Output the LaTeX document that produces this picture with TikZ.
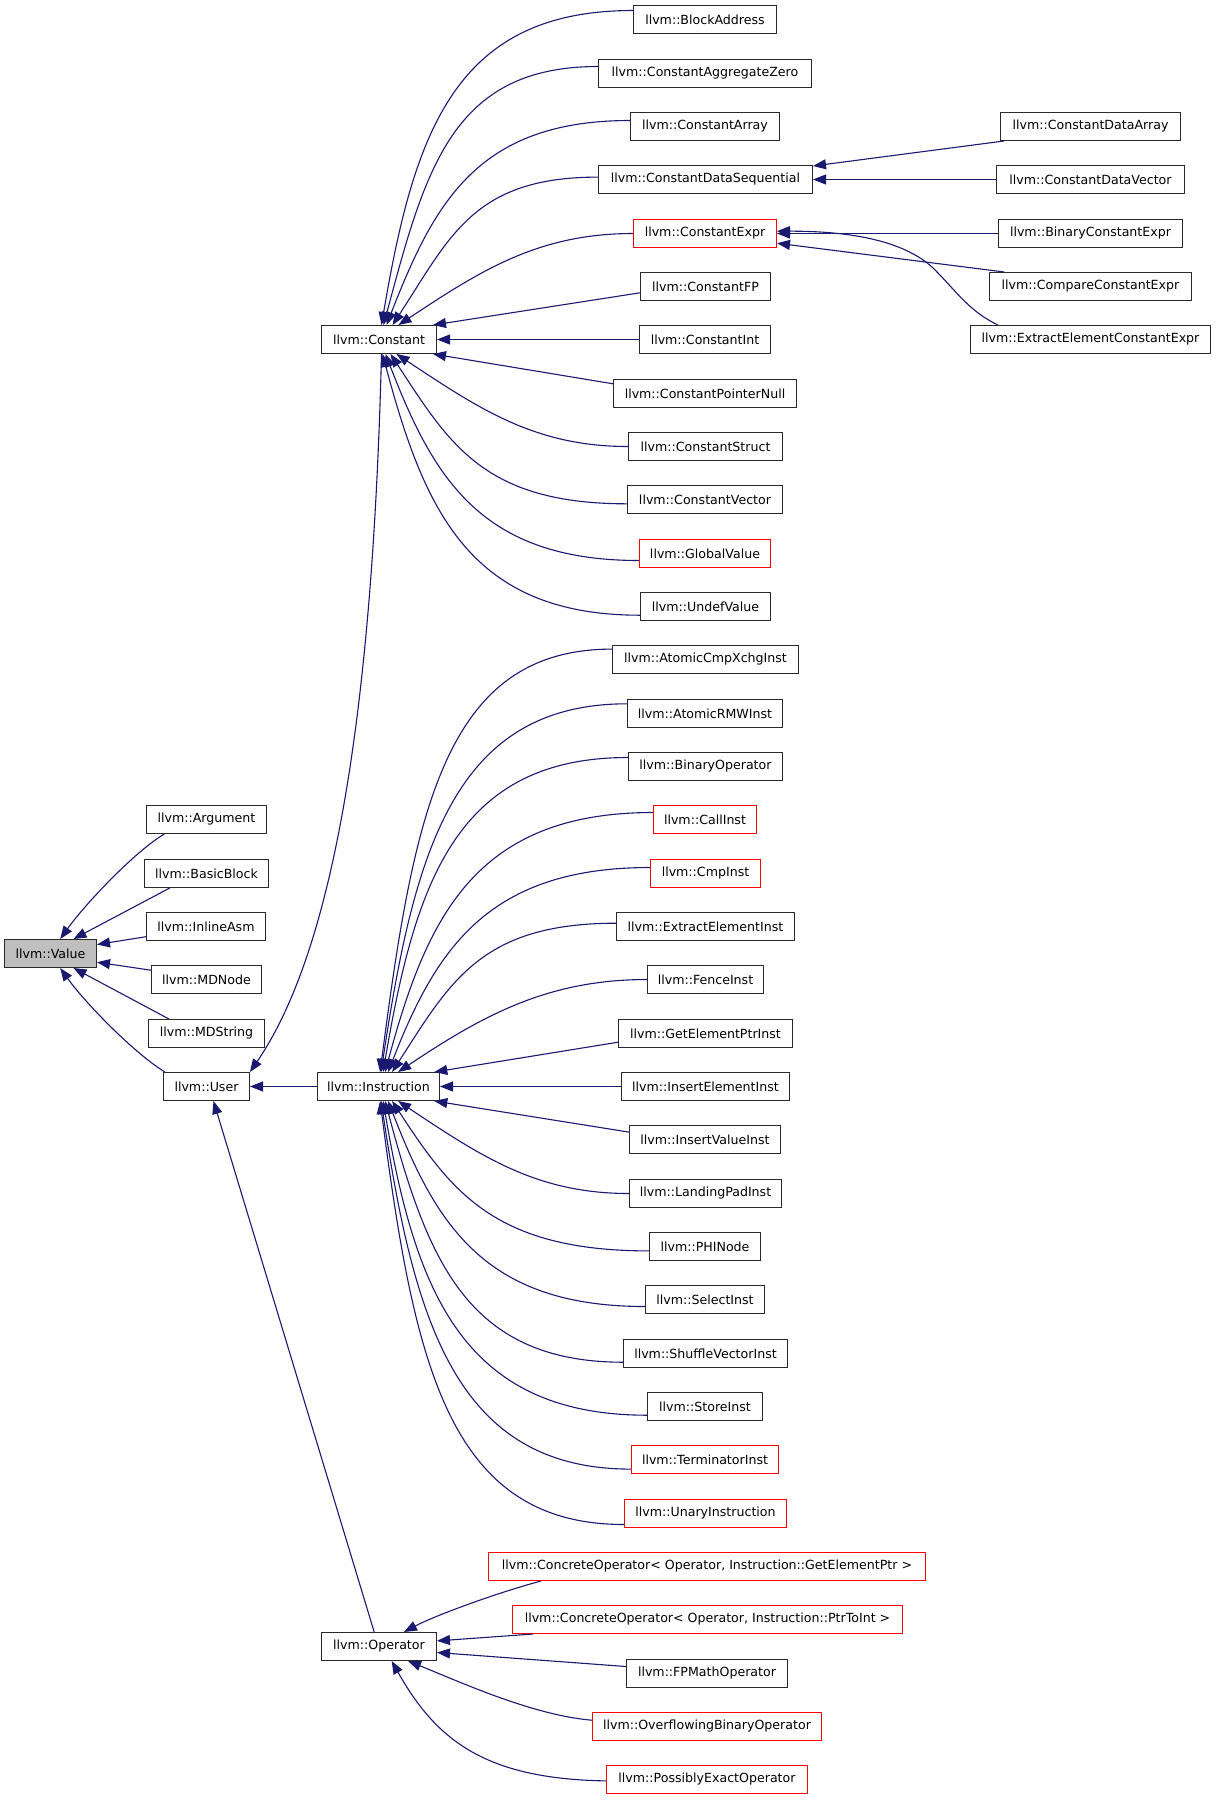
\documentclass[tikz,border=0pt]{standalone}
\usepackage{fontspec}
\setmainfont{DejaVu Sans}
\usetikzlibrary{arrows.meta,calc}
\definecolor{edgecol}{HTML}{191970}
\definecolor{boxgray}{HTML}{BFBFBF}
\definecolor{boxline}{HTML}{2A2A2A}
\definecolor{boxred}{HTML}{FF0000}
\begin{document}
\begin{tikzpicture}[x=1pt,y=-1pt,
  box/.style={draw=boxline, line width=1pt, minimum height=28pt, inner sep=0pt, fill=white, font=\fontsize{12.6pt}{15pt}\selectfont},
  redbox/.style={box, draw=boxred},
  edge/.style={draw=edgecol, line width=1.1pt, -{Triangle[length=13pt,width=10pt]}},
]
\useasboundingbox[fill=white] (0,0) rectangle (1216,1800);

% left column
\node[box, fill=boxgray, minimum width=92pt] (value) at (50.5,953.5) {llvm::Value};
\node[box, minimum width=120pt] (arg) at (206.5,819.5) {llvm::Argument};
\node[box, minimum width=124pt] (bb) at (206.5,873.5) {llvm::BasicBlock};
\node[box, minimum width=119pt] (ia) at (206,926.5) {llvm::InlineAsm};
\node[box, minimum width=110pt] (mdn) at (206.5,979.5) {llvm::MDNode};
\node[box, minimum width=116pt] (mds) at (206.5,1033.5) {llvm::MDString};
\node[box, minimum width=86pt] (user) at (206.5,1086.5) {llvm::User};
\node[box, minimum width=115pt] (const) at (379,339.5) {llvm::Constant};
\node[box, minimum width=122pt] (instr) at (378.5,1086.5) {llvm::Instruction};
\node[box, minimum width=115pt] (oper) at (379,1646.5) {llvm::Operator};

% middle column
\node[box, minimum width=143pt] (ba) at (705,19.5) {llvm::BlockAddress};
\node[box, minimum width=213pt] (caz) at (705,73.5) {llvm::ConstantAggregateZero};
\node[box, minimum width=149pt] (carr) at (705,126.5) {llvm::ConstantArray};
\node[box, minimum width=214pt] (cds) at (705.5,179.5) {llvm::ConstantDataSequential};
\node[redbox, minimum width=143pt] (cexpr) at (705,233.5) {llvm::ConstantExpr};
\node[box, minimum width=130pt] (cfp) at (705.5,286.5) {llvm::ConstantFP};
\node[box, minimum width=131pt] (cint) at (705,339.5) {llvm::ConstantInt};
\node[box, minimum width=183pt] (cpn) at (705,393.5) {llvm::ConstantPointerNull};
\node[box, minimum width=154pt] (cstruct) at (705.5,446.5) {llvm::ConstantStruct};
\node[box, minimum width=155pt] (cvec) at (705,499.5) {llvm::ConstantVector};
\node[redbox, minimum width=131pt] (gv) at (705,553.5) {llvm::GlobalValue};
\node[box, minimum width=130pt] (uv) at (705.5,606.5) {llvm::UndefValue};
\node[box, minimum width=186pt] (acx) at (705.5,659.5) {llvm::AtomicCmpXchgInst};
\node[box, minimum width=155pt] (armw) at (705,713.5) {llvm::AtomicRMWInst};
\node[box, minimum width=154pt] (binop) at (705.5,766.5) {llvm::BinaryOperator};
\node[redbox, minimum width=103pt] (call) at (705,819.5) {llvm::CallInst};
\node[redbox, minimum width=110pt] (cmp) at (705.5,873.5) {llvm::CmpInst};
\node[box, minimum width=178pt] (eei) at (705.5,926.5) {llvm::ExtractElementInst};
\node[box, minimum width=116pt] (fence) at (705.5,979.5) {llvm::FenceInst};
\node[box, minimum width=174pt] (gep) at (705.5,1033.5) {llvm::GetElementPtrInst};
\node[box, minimum width=168pt] (iei) at (705.5,1086.5) {llvm::InsertElementInst};
\node[box, minimum width=151pt] (ivi) at (705,1139.5) {llvm::InsertValueInst};
\node[box, minimum width=152pt] (lpi) at (705.5,1193.5) {llvm::LandingPadInst};
\node[box, minimum width=111pt] (phi) at (705,1246.5) {llvm::PHINode};
\node[box, minimum width=119pt] (sel) at (705,1299.5) {llvm::SelectInst};
\node[box, minimum width=164pt] (svi) at (705.5,1353.5) {llvm::ShuffleVectorInst};
\node[box, minimum width=115pt] (store) at (705,1406.5) {llvm::StoreInst};
\node[redbox, minimum width=147pt] (term) at (705,1459.5) {llvm::TerminatorInst};
\node[redbox, minimum width=162pt] (unary) at (705.5,1513.5) {llvm::UnaryInstruction};
\node[redbox, minimum width=437pt] (cogep) at (707,1566.5) {llvm::ConcreteOperator< Operator, Instruction::GetElementPtr >};
\node[redbox, minimum width=390pt] (coptr) at (707.5,1619.5) {llvm::ConcreteOperator< Operator, Instruction::PtrToInt >};
\node[box, minimum width=161pt] (fpm) at (707,1673.5) {llvm::FPMathOperator};
\node[redbox, minimum width=229pt] (obo) at (707,1726.5) {llvm::OverflowingBinaryOperator};
\node[redbox, minimum width=201pt] (peo) at (707,1779.5) {llvm::PossiblyExactOperator};

% right column
\node[box, minimum width=180pt] (cda) at (1090.5,126.5) {llvm::ConstantDataArray};
\node[box, minimum width=188pt] (cdv) at (1090.5,179.5) {llvm::ConstantDataVector};
\node[box, minimum width=184pt] (bce) at (1090.5,233.5) {llvm::BinaryConstantExpr};
\node[box, minimum width=202pt] (cce) at (1090.5,286.5) {llvm::CompareConstantExpr};
\node[box, minimum width=240pt] (eece) at (1090.5,339.5) {llvm::ExtractElementConstantExpr};

% Value fan
\draw[edge] ($(arg.south west)+(18.3,0)$) .. controls +(-30,18) and +(25,-35) .. ($(value.north)+(9.7,0)$);
\draw[edge] ($(bb.south west)+(25.7,0)$) -- ($(value.north)+(23,0)$);
\draw[edge] ($(ia.west)+(0,10.2)$) -- ($(value.east)+(0,-9)$);
\draw[edge] ($(mdn.west)+(0,-9.3)$) -- ($(value.east)+(0,8.7)$);
\draw[edge] ($(mds.north west)+(21,0)$) -- ($(value.south)+(23,0)$);
\draw[edge] ($(user.north west)+(2,0)$) .. controls +(-30,-18) and +(25,35) .. ($(value.south)+(9.7,0)$);

% User fan
\draw[edge] ($(const.south)+(2.5,0)$) .. controls +(-10,400) and +(75,-110) .. (user.north east);
\draw[edge] (instr.west) -- (user.east);
\draw[edge] ($(oper.north)+(-4.8,0)$) -- ($(user.south)+(7,0)$);

% Constant fan
\draw[edge] ($(ba.west)+(0,-9)$) .. controls +(-177,0) and +(33,-195) .. ($(const.north)+(2.5,0)$);
\draw[edge] ($(caz.west)+(0,-7)$) .. controls +(-146,0) and +(42,-156) .. ($(const.north)+(4.5,0)$);
\draw[edge] ($(carr.west)+(0,-6)$) .. controls +(-152,0) and +(48,-123) .. ($(const.north)+(7.5,0)$);
\draw[edge] ($(cds.west)+(0,-2.4)$) .. controls +(-124,0) and +(58,-89) .. ($(const.north)+(13.5,0)$);
\draw[edge] (cexpr.west) .. controls +(-94,0) and +(83,-55) .. ($(const.north)+(19.5,0)$);
\draw[edge] ($(cfp.west)+(0,6.3)$) -- ($(const.north east)+(-4,0)$);
\draw[edge] (cint.west) -- (const.east);
\draw[edge] ($(cpn.west)+(0,-9.7)$) -- ($(const.south east)+(-4,0)$);
\draw[edge] (cstruct.west) .. controls +(-93,0) and +(83,55) .. ($(const.south)+(17.5,0)$);
\draw[edge] ($(cvec.west)+(0,4.3)$) .. controls +(-143,0) and +(59,90) .. ($(const.south)+(11.5,0)$);
\draw[edge] ($(gv.west)+(0,7)$) .. controls +(-158,0) and +(48,124) .. ($(const.south)+(6.5,0)$);
\draw[edge] ($(uv.west)+(0,8.7)$) .. controls +(-170,0) and +(42,157) .. ($(const.south)+(3.5,0)$);

% ConstantDataSequential fan
\draw[edge] ($(cda.south west)+(4,0)$) -- ($(cds.north east)+(0,1)$);
\draw[edge] (cdv.west) -- (cds.east);

% ConstantExpr fan
\draw[edge] (bce.west) -- (cexpr.east);
\draw[edge] ($(cce.north west)+(15.3,0)$) -- ($(cexpr.east)+(0,9.7)$);
\draw[edge] ($(eece.north west)+(28,0)$) .. controls (970,312) and (955,290) .. (937,272) .. controls (915,248) and (870,231) .. ($(cexpr.east)+(0,-2.3)$);

% Instruction fan
\draw[edge] ($(acx.west)+(0,-10.4)$) .. controls +(-167,0) and +(34,-262) .. ($(instr.north)+(1.6,0)$);
\draw[edge] ($(armw.west)+(0,-9.7)$) .. controls +(-173,0) and +(33,-221) .. ($(instr.north)+(2.6,0)$);
\draw[edge] ($(binop.west)+(0,-9)$) .. controls +(-172,0) and +(32,-189) .. ($(instr.north)+(4.6,0)$);
\draw[edge] ($(call.west)+(0,-7)$) .. controls +(-177,0) and +(42,-156) .. ($(instr.north)+(6.6,0)$);
\draw[edge] ($(cmp.west)+(0,-6)$) .. controls +(-162,0) and +(48,-123) .. ($(instr.north)+(9.6,0)$);
\draw[edge] ($(eei.west)+(0,-3.3)$) .. controls +(-135,0) and +(58,-90) .. ($(instr.north)+(13.6,0)$);
\draw[edge] (fence.west) .. controls +(-100,0) and +(84,-56) .. ($(instr.north)+(19.6,0)$);
\draw[edge] ($(gep.west)+(0,8.7)$) -- ($(instr.north east)+(-5.7,0)$);
\draw[edge] (iei.west) -- (instr.east);
\draw[edge] ($(ivi.west)+(0,-7.4)$) -- ($(instr.south east)+(-5.7,0)$);
\draw[edge] (lpi.west) .. controls +(-92,0) and +(84,56) .. ($(instr.south)+(19.6,0)$);
\draw[edge] ($(phi.west)+(0,4.4)$) .. controls +(-155,0) and +(59,90) .. ($(instr.south)+(13.6,0)$);
\draw[edge] ($(sel.west)+(0,7)$) .. controls +(-160,0) and +(48,124) .. ($(instr.south)+(9.6,0)$);
\draw[edge] ($(svi.west)+(0,8.7)$) .. controls +(-157,0) and +(42,157) .. ($(instr.south)+(6.6,0)$);
\draw[edge] ($(store.west)+(0,8.7)$) .. controls +(-185,0) and +(32,189) .. ($(instr.south)+(4.6,0)$);
\draw[edge] ($(term.west)+(0,9.6)$) .. controls +(-175,0) and +(33,221) .. ($(instr.south)+(2.6,0)$);
\draw[edge] ($(unary.west)+(0,11)$) .. controls +(-176,0) and +(34,263) .. ($(instr.south)+(1.6,0)$);

% Operator fan
\draw[edge] ($(cogep.south west)+(53,0)$) .. controls +(-45,12) and +(30,-16) .. ($(oper.north)+(25,0)$);
\draw[edge] ($(coptr.south west)+(21,0)$) -- ($(oper.east)+(0,-5.6)$);
\draw[edge] ($(fpm.west)+(0,-7)$) -- ($(oper.east)+(0,6)$);
\draw[edge] ($(obo.west)+(0,-6.3)$) .. controls +(-60,-5) and +(50,20) .. ($(oper.south)+(29,0)$);
\draw[edge] ($(peo.west)+(0,1.4)$) .. controls +(-120,-2) and +(45,80) .. ($(oper.south)+(12.7,0)$);
\end{tikzpicture}
\end{document}
